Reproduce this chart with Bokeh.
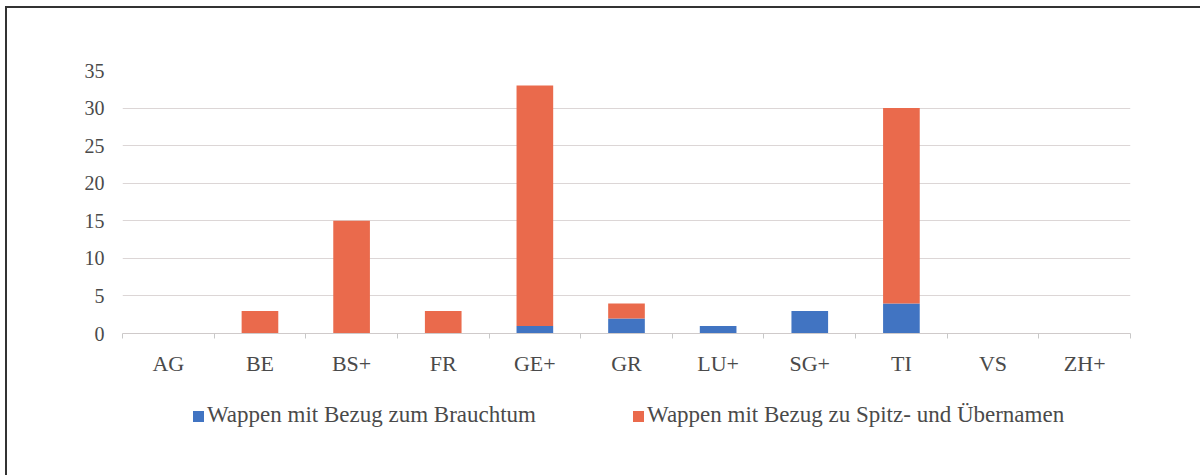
from bokeh.plotting import figure
from bokeh.models import ColumnDataSource, Range1d, FixedTicker, Div
from bokeh.layouts import column
from bokeh.embed import file_html
from bokeh.resources import INLINE

cantons = ["AG", "BE", "BS+", "FR", "GE+", "GR", "LU+", "SG+", "TI", "VS", "ZH+"]
brauchtum = [0, 0, 0, 0, 1, 2, 1, 3, 4, 0, 0]
spitznamen = [0, 3, 15, 3, 32, 2, 0, 0, 26, 0, 0]
series_labels = ["Wappen mit Bezug zum Brauchtum",
                 "Wappen mit Bezug zu Spitz- und Übernamen"]
y_ticks = [0, 5, 10, 15, 20, 25, 30, 35]

BLUE = "#4174C2"
ORANGE = "#EA6A4C"
TEXT = "#4a4a4a"
GRID = "#dcd6d6"
FONT = "Liberation Serif"

n = len(cantons)
centers = [i + 0.5 for i in range(n)]          # slot centers of the categories
bounds = [float(i) for i in range(n + 1)]      # slot boundaries (tick marks)

src = ColumnDataSource(dict(x=centers, cat=cantons, b=brauchtum, s=spitznamen))

p = figure(width=1188, height=380, output_backend="svg", toolbar_location=None,
           x_range=Range1d(0, n), y_range=Range1d(0, y_ticks[-1]),
           min_border_left=115, min_border_right=65,
           min_border_top=62, min_border_bottom=55)
p.outline_line_color = None
p.background_fill_color = "white"
p.border_fill_color = "white"

r = p.vbar_stack(["b", "s"], x="x", width=0.40, source=src,
                 fill_color=[BLUE, ORANGE], line_color=None)

xa = p.xaxis[0]
xa.ticker = FixedTicker(ticks=centers, minor_ticks=bounds)
xa.major_label_overrides = {c: lab for c, lab in zip(centers, cantons)}
xa.major_tick_line_color = None
xa.major_tick_out = 0
xa.major_tick_in = 0
xa.minor_tick_line_color = "#c8c8c8"
xa.minor_tick_out = 5
xa.minor_tick_in = 0
xa.axis_line_color = "#cfcaca"
xa.major_label_text_font = FONT
xa.major_label_text_font_size = "22px"
xa.major_label_text_color = TEXT
xa.major_label_standoff = 12

ya = p.yaxis[0]
ya.ticker = FixedTicker(ticks=y_ticks)
ya.axis_line_color = None
ya.major_tick_line_color = None
ya.minor_tick_line_color = None
ya.major_label_text_font = FONT
ya.major_label_text_font_size = "20px"
ya.major_label_text_color = TEXT
ya.major_label_standoff = 12

p.xgrid.grid_line_color = None
p.ygrid.grid_line_color = GRID
p.ygrid.grid_line_width = 1
p.ygrid.ticker = FixedTicker(ticks=y_ticks)

# legend row (HTML text) below the chart
gaps = [181, 97]
parts = []
for lab, col, gap in zip(series_labels, [BLUE, ORANGE], gaps):
    parts.append(
        f'<span style="display:inline-block;width:11px;height:11px;'
        f'background:{col};margin-left:{gap}px;margin-right:3px"></span>'
        f'<span style="font-family:{FONT},serif">{lab}</span>')
html = ('<div style="line-height:23px;padding-top:10px;white-space:nowrap">'
        + "".join(parts) + '</div>')
legend_div = Div(text=html, width=1188, height=78,
                 styles={"font-family": f"{FONT}, serif", "font-size": "23px",
                         "color": TEXT, "background": "white"})

layout = column(p, legend_div, spacing=0,
                styles={"border-top": "2px solid #333",
                        "border-left": "2px solid #333",
                        "margin-left": "5px", "margin-top": "6px",
                        "background": "white"})
open("out.html", "w").write(file_html(layout, INLINE))
